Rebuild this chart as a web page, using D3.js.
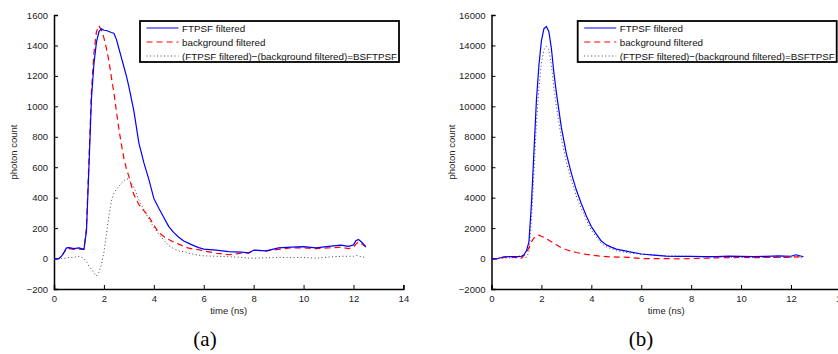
<!DOCTYPE html>
<html>
<head>
<meta charset="utf-8">
<script src="https://cdn.jsdelivr.net/npm/d3@7"></script>
<style>
  body { margin: 0; background: #fff; }
</style>
</head>
<body>
<main></main>
<script>
// panel (a)
const timeA = [0, 0.2, 0.3, 0.4, 0.5, 0.6, 0.8, 1.0, 1.1, 1.2, 1.3, 1.4, 1.5, 1.6, 1.7, 1.8, 1.9, 2.0, 2.1, 2.2, 2.3, 2.4, 2.5, 2.6, 2.7, 2.8, 2.9, 3.0, 3.2, 3.4, 3.6, 3.8, 4.0, 4.2, 4.4, 4.6, 4.8, 5.0, 5.2, 5.4, 5.6, 5.8, 6.0, 6.5, 7.0, 7.5, 7.8, 8.0, 8.5, 9.0, 9.5, 10.0, 10.5, 11.0, 11.5, 11.8, 12.0, 12.1, 12.2, 12.3, 12.5];
const ftpsfA = [0, 0, 15, 40, 70, 72, 65, 70, 65, 60, 180, 600, 1050, 1280, 1420, 1490, 1510, 1500, 1498, 1492, 1485, 1480, 1440, 1380, 1320, 1260, 1200, 1130, 970, 760, 630, 520, 395, 330, 270, 210, 170, 140, 115, 100, 85, 72, 62, 55, 45, 42, 38, 55, 50, 70, 75, 78, 70, 80, 88, 80, 90, 118, 125, 112, 78];
const bgA = [0, 0, 15, 40, 65, 65, 60, 62, 60, 60, 200, 650, 1100, 1350, 1490, 1530, 1500, 1450, 1380, 1300, 1190, 1090, 970, 850, 750, 660, 590, 540, 420, 355, 315, 275, 220, 170, 145, 125, 108, 95, 80, 68, 62, 58, 50, 35, 25, 35, 35, 55, 50, 60, 70, 70, 65, 70, 75, 65, 75, 95, 110, 100, 75];
const bsfA = [0, 0, 0, 0, 5, 7, 8, 15, 10, 0, -20, -50, -70, -95, -115, -90, -40, 40, 160, 280, 380, 430, 455, 475, 495, 510, 525, 520, 470, 385, 320, 260, 205, 160, 120, 85, 65, 50, 45, 35, 28, 22, 18, 15, 12, 8, 3, 2, 5, 8, 6, 8, 2, 10, 15, 15, 15, 20, 18, 12, 8];

// panel (b)
const timeB = [0, 0.2, 0.3, 0.5, 0.8, 1.0, 1.1, 1.2, 1.3, 1.4, 1.5, 1.6, 1.7, 1.8, 1.9, 2.0, 2.1, 2.2, 2.3, 2.4, 2.5, 2.6, 2.8, 3.0, 3.2, 3.4, 3.6, 3.8, 4.0, 4.2, 4.4, 4.6, 4.8, 5.0, 5.5, 6.0, 6.5, 7.0, 7.5, 8.0, 8.5, 9.0, 9.5, 10.0, 10.5, 11.0, 11.5, 12.0, 12.2, 12.5];
const ftpsfB = [0, -30, 20, 120, 130, 130, 130, 150, 250, 500, 1100, 3600, 7000, 10400, 12700, 14300, 15100, 15250, 14900, 13800, 12200, 10900, 8600, 6900, 5600, 4500, 3600, 2800, 2100, 1600, 1150, 900, 750, 620, 450, 300, 230, 160, 140, 140, 130, 130, 160, 140, 130, 140, 170, 150, 250, 120];
const bgB = [0, -20, 0, 80, 90, 60, -50, 40, 200, 400, 700, 1100, 1350, 1500, 1540, 1450, 1400, 1300, 1200, 1100, 1000, 900, 700, 580, 480, 400, 330, 270, 230, 190, 150, 130, 110, 100, 80, 0, -10, 0, -20, 0, 20, 50, 60, 70, 60, 70, 80, 80, 120, 100];
const bsfB = [0, -10, 20, 40, 40, 70, 180, 110, 50, 100, 400, 2500, 5650, 8900, 11200, 12850, 13700, 13950, 13700, 12700, 11200, 10000, 7900, 6320, 5120, 4100, 3270, 2530, 1870, 1410, 1000, 770, 640, 520, 370, 300, 240, 160, 160, 140, 110, 80, 100, 70, 70, 70, 90, 70, 130, 20];

const xTicks = [0, 2, 4, 6, 8, 10, 12, 14];
const yTicksA = [-200, 0, 200, 400, 600, 800, 1000, 1200, 1400, 1600];
const yTicksB = [-2000, 0, 2000, 4000, 6000, 8000, 10000, 12000, 14000, 16000];
const legendLabels = ["FTPSF filtered", "background filtered", "(FTPSF filtered)\u2212(background filtered)=BSFTPSF"];
const captions = ["(a)", "(b)"];

const sans = "'Liberation Sans', Arial, sans-serif";
const styles = [
  { stroke: "#0000ff", dash: null, width: 1.2 },
  { stroke: "#ff0000", dash: "6,4", width: 1.2 },
  { stroke: "#444", dash: "1,2.5", width: 1 }
];

const svg = d3.select("main").append("svg")
  .attr("width", 838).attr("height", 354);

const panels = [
  { time: timeA, series: [ftpsfA, bgA, bsfA], yDomain: [-200, 1600], yTicks: yTicksA, x0: 54, legX: 140, capX: 205 },
  { time: timeB, series: [ftpsfB, bgB, bsfB], yDomain: [-2000, 16000], yTicks: yTicksB, x0: 491.5, legX: 577.7, capX: 641 }
];

panels.forEach((p, pi) => {
  const x = d3.scaleLinear().domain([0, 14]).range([p.x0, p.x0 + 349.4]);
  const y = d3.scaleLinear().domain(p.yDomain).range([289, 15]);
  const g = svg.append("g");

  // axes, ticks pointing inward like matlab
  const ax = g.append("g").attr("transform", `translate(0,${y.range()[0]})`)
    .call(d3.axisBottom(x).tickValues(xTicks).tickSize(-4).tickPadding(6).tickFormat(d3.format("d")));
  const ay = g.append("g").attr("transform", `translate(${p.x0},0)`)
    .call(d3.axisLeft(y).tickValues(p.yTicks).tickSize(-4).tickPadding(6)
      .tickFormat(d => d < 0 ? "\u2212" + Math.abs(d) : d));
  [ax, ay].forEach(a => {
    a.select(".domain").attr("stroke", "#000").attr("stroke-width", 1.5);
    a.selectAll(".tick line").attr("stroke", "#000");
    a.selectAll("text").attr("font-size", 9.5).attr("fill", "#222")
      .style("font-family", sans);
  });

  const line = d3.line()
    .x((d, i) => x(p.time[i]))
    .y(d => y(d));

  // dotted first, then red, blue on top
  [2, 1, 0].forEach(si => {
    const s = styles[si];
    g.append("path")
      .datum(p.series[si])
      .attr("fill", "none")
      .attr("stroke", s.stroke)
      .attr("stroke-width", s.width)
      .attr("stroke-dasharray", s.dash)
      .attr("stroke-linejoin", "round")
      .attr("d", line);
  });

  g.append("text")
    .attr("transform", `translate(${p.x0 - 37},152) rotate(-90)`)
    .attr("text-anchor", "middle")
    .attr("font-size", 9.5).attr("fill", "#222")
    .style("font-family", sans)
    .text("photon count");

  g.append("text")
    .attr("x", p.x0 + 174.7).attr("y", 314)
    .attr("text-anchor", "middle")
    .attr("font-size", 9.5).attr("fill", "#222")
    .style("font-family", sans)
    .text("time (ns)");

  g.append("text")
    .attr("x", p.capX).attr("y", 346)
    .attr("text-anchor", "middle")
    .style("font-family", "'Liberation Serif', 'DejaVu Serif', serif")
    .attr("font-size", 21)
    .text(captions[pi]);

  // legend
  const leg = g.append("g").attr("transform", `translate(${p.legX},21)`);
  leg.append("rect").attr("width", 259).attr("height", 41)
    .attr("fill", "#fff").attr("stroke", "#000").attr("stroke-width", 1.8);
  legendLabels.forEach((lab, i) => {
    const s = styles[i];
    const ly = 7 + i * 14;
    leg.append("line")
      .attr("x1", 6.5).attr("x2", 38.5).attr("y1", ly).attr("y2", ly)
      .attr("stroke", s.stroke).attr("stroke-width", s.width)
      .attr("stroke-dasharray", s.dash);
    leg.append("text")
      .attr("x", 42).attr("y", ly + 3.5)
      .attr("font-size", 9.8).attr("fill", "#111")
      .style("font-family", sans)
      .text(lab);
  });
});
</script>
</body>
</html>
